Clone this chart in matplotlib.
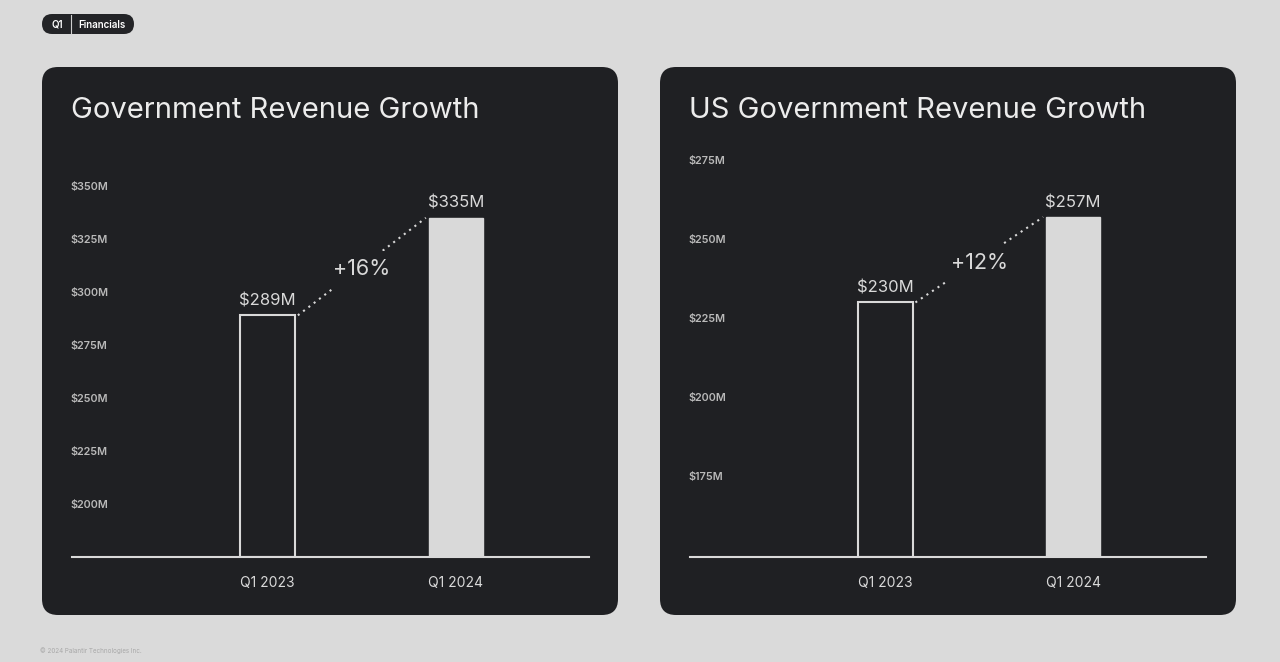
import matplotlib
matplotlib.use("Agg")
import matplotlib.pyplot as plt
from matplotlib.patches import FancyBboxPatch
from matplotlib.transforms import IdentityTransform

plt.rcParams['font.family'] = ['Inter', 'DejaVu Sans']

# ---- data ----
categories = ["Q1 2023", "Q1 2024"]
gov_values = [289, 335]
gov_labels = ["$289M", "$335M"]
gov_growth = "+16%"
gov_ticks = [200, 225, 250, 275, 300, 325, 350]
gov_ylim = (175, 367)

us_values = [230, 257]
us_labels = ["$230M", "$257M"]
us_growth = "+12%"
us_ticks = [175, 200, 225, 250, 275]
us_ylim = (149.5, 278.2)

titles = ["Government Revenue Growth", "US Government Revenue Growth"]

BG = "#dadada"
PANEL = "#1f2023"
LIGHT = "#d9d9d9"
TICKC = "#b9b9b9"

W, H = 1280, 662
fig = plt.figure(figsize=(W / 100, H / 100), dpi=100)
fig.patch.set_facecolor(BG)

def px(x, y):
    return x / W, 1 - y / H

# panels
for x0 in (42, 660):
    p = FancyBboxPatch((x0, H - 615), 576, 548,
                       boxstyle="round,pad=0,rounding_size=16",
                       transform=IdentityTransform(), facecolor=PANEL,
                       edgecolor="none", zorder=-2)
    fig.patches.append(p)

# badge
badge = FancyBboxPatch((42, H - 34), 92, 20, boxstyle="round,pad=0,rounding_size=10",
                       transform=IdentityTransform(), facecolor="#232427",
                       edgecolor="none", zorder=-1)
fig.patches.append(badge)
fig.lines.append(plt.Line2D([71 / W, 71 / W], [1 - 15 / H, 1 - 33 / H],
                            transform=fig.transFigure, color="#cfcfcf", lw=0.8))
fig.text(*px(57, 24.5), "Q1", color="white", fontsize=7, fontweight="semibold",
         ha="center", va="center")
fig.text(*px(102, 24.5), "Financials", color="white", fontsize=7, fontweight="semibold",
         ha="center", va="center")

# footer
fig.text(*px(40, 651), "© 2024 Palantir Technologies Inc.", color="#a8a8a8",
         fontsize=4.5, ha="left", va="center")

def make_panel(ax_left_px, ax_right_px, title, values, labels, growth, ticks, ylim):
    left, bottom = px(ax_left_px, 557)
    _, top = px(ax_left_px, 150)
    ax = fig.add_axes([left, bottom, (ax_right_px - ax_left_px) / W, top - bottom])
    ax.set_zorder(1)
    ax.set_facecolor("none")
    x = list(range(len(categories)))
    bw = 0.29
    ax.bar(x[0], values[0] - ylim[0], bottom=ylim[0], width=bw, facecolor=PANEL,
           edgecolor=LIGHT, linewidth=1.5, zorder=3)
    ax.bar(x[1], values[1] - ylim[0], bottom=ylim[0], width=bw, facecolor=LIGHT,
           edgecolor=LIGHT, linewidth=1.0, zorder=3)
    ax.set_xlim(-1.04, 1.707)
    ax.set_ylim(*ylim)
    for s in ("top", "right", "left"):
        ax.spines[s].set_visible(False)
    ax.spines["bottom"].set_color(LIGHT)
    ax.spines["bottom"].set_linewidth(1.5)
    ax.spines["bottom"].set_zorder(4)
    ax.set_xticks(x)
    ax.set_xticklabels(categories, color=LIGHT, fontsize=10)
    ax.tick_params(axis="x", length=0, pad=14)
    ax.set_yticks(ticks)
    ax.set_yticklabels([f"${t}M" for t in ticks], color=TICKC, fontsize=7.8,
                       fontweight="semibold")
    ax.tick_params(axis="y", length=0, pad=1)
    for lab in ax.get_yticklabels():
        lab.set_horizontalalignment("left")
    # value labels
    for xi, v, lab in zip(x, values, labels):
        ax.annotate(lab, (xi, v), xytext=(0, 5), textcoords="offset points",
                    ha="center", va="bottom", color=LIGHT, fontsize=12)
    # dotted connector
    x1, x2 = x[0] + bw / 2 + 0.015, x[1] - bw / 2 - 0.015
    ax.plot([x1, x2], [values[0], values[1]], linestyle=(0, (1, 2.2)), color=LIGHT,
            lw=1.5, zorder=2)
    ax.annotate(growth, ((x1 + x2) / 2, (values[0] + values[1]) / 2),
                xytext=(0, -2), textcoords="offset points", ha="center", va="center",
                color=LIGHT, fontsize=15.5, zorder=4,
                bbox=dict(facecolor=PANEL, edgecolor="none", pad=6))
    fig.text(*px(ax_left_px - 1, 110), title, color="#ececec", fontsize=21,
             ha="left", va="center")
    return ax

make_panel(72, 589, titles[0], gov_values, gov_labels, gov_growth, gov_ticks, gov_ylim)
make_panel(690, 1206, titles[1], us_values, us_labels, us_growth, us_ticks, us_ylim)

fig.savefig("out.png", dpi=100, facecolor=BG)
